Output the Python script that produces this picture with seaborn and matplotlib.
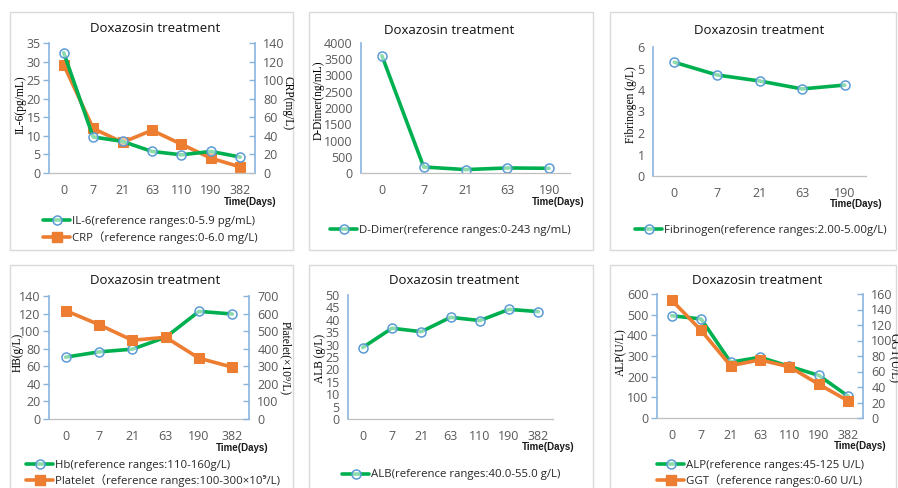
import numpy as np
import pandas as pd
import matplotlib
matplotlib.use("Agg")
import matplotlib.pyplot as plt
import seaborn as sns
from matplotlib.patches import Rectangle
from matplotlib.lines import Line2D
from matplotlib.ticker import FixedLocator

# ---------------- data ----------------
days7 = ["0", "7", "21", "63", "110", "190", "382"]
days5 = ["0", "7", "21", "63", "190"]
days6 = ["0", "7", "21", "63", "190", "382"]

il6 = [32.4, 9.7, 8.5, 5.8, 4.9, 5.8, 4.3]
crp = [116.5, 48, 33, 46, 31, 16, 6.5]
ddimer = [3610, 185, 105, 155, 145]
fibrinogen = [5.29, 4.70, 4.42, 4.05, 4.23]
hb = [70.4, 76.4, 79.5, 93, 122.5, 119.5]
platelet = [617, 537, 448, 465, 346, 295]
alb = [28.8, 36.6, 35.2, 41.0, 39.7, 44.2, 43.3]
alp = [495, 479, 270, 294, 250, 206, 105]
ggt = [152, 113, 67.5, 75, 66, 43.5, 22]

title_text = "Doxazosin treatment"
xunit_text = "Time(Days)"
leg_il6 = "IL-6(reference ranges:0-5.9 pg/mL)"
leg_crp = "CRP\uff08reference ranges:0-6.0 mg/L)"
leg_dd = "D-Dimer(reference ranges:0-243 ng/mL)"
leg_fib = "Fibrinogen(reference ranges:2.00-5.00g/L)"
leg_hb = "Hb(reference ranges:110-160g/L)"
leg_plt = "Platelet\uff08reference ranges:100-300\u00d710\u2079/L)"
leg_alb = "ALB(reference ranges:40.0-55.0 g/L)"
leg_alp = "ALP(reference ranges:45-125 U/L)"
leg_ggt = "GGT\uff08reference ranges:0-60 U/L)"

# ---------------- style ----------------
sns.set_style("white")
plt.rcParams["font.family"] = ["Open Sans", "Noto Sans CJK SC", "DejaVu Sans"]

GREEN = "#00b050"
ORANGE = "#ed7d31"
MBLUE = "#5b9bd5"
SPINE = "#8ab4df"
GREY_AX = "#bfbfbf"
TICK_TXT = "#595959"
SERIF = ["Liberation Serif", "DejaVu Serif"]

W, H = 898, 488
fig = plt.figure(figsize=(W / 100, H / 100), dpi=100)
fig.patch.set_facecolor("white")


def fx(x):
    return x / W


def fy(y):
    return 1 - y / H


def make_ax(l, r, t, b):
    return fig.add_axes([l / W, 1 - b / H, (r - l) / W, (b - t) / H])


green_kw = dict(color=GREEN, linewidth=2.6, marker="o", markersize=6.5,
                markerfacecolor=(1, 1, 1, 0.55), markeredgecolor=MBLUE,
                markeredgewidth=1.1)
orange_kw = dict(color=ORANGE, linewidth=2.6, marker="s", markersize=6.5,
                 markerfacecolor=ORANGE, markeredgecolor=ORANGE)


def draw(ax, cats, vals, kw):
    df = pd.DataFrame({"x": np.arange(len(cats)), "y": vals})
    sns.lineplot(data=df, x="x", y="y", ax=ax, legend=False, **kw)
    ax.set_xlabel("")
    ax.set_ylabel("")


def style_main(ax, cats, ymax, step):
    n = len(cats)
    ax.set_xlim(-0.5, n - 0.5)
    ax.set_ylim(0, ymax)
    ax.set_yticks(np.arange(0, ymax + step / 2, step))
    ax.set_xticks(np.arange(n))
    ax.set_xticklabels(cats)
    ax.xaxis.set_minor_locator(FixedLocator(np.arange(-0.5, n, 1.0)))
    ax.tick_params(axis="x", which="major", length=0, pad=8, labelsize=9,
                   labelcolor=TICK_TXT)
    ax.tick_params(axis="x", which="minor", length=4, width=0.8,
                   color=GREY_AX, direction="out")
    ax.tick_params(axis="y", length=4, width=1, color=SPINE, pad=2,
                   labelsize=9, labelcolor=TICK_TXT, direction="out")
    for s in ("top", "right"):
        ax.spines[s].set_visible(False)
    ax.spines["left"].set_color(SPINE)
    ax.spines["left"].set_linewidth(1.2)
    ax.spines["bottom"].set_color(GREY_AX)
    ax.spines["bottom"].set_linewidth(0.9)
    ax.patch.set_visible(False)


def style_twin(ax2, ymax, step):
    ax2.set_ylim(0, ymax)
    ax2.set_yticks(np.arange(0, ymax + step / 2, step))
    ax2.tick_params(axis="y", length=4, width=1, color=SPINE, pad=6,
                    labelsize=9, labelcolor=TICK_TXT, direction="in")
    for s in ("top", "left", "bottom"):
        ax2.spines[s].set_visible(False)
    ax2.spines["right"].set_color(SPINE)
    ax2.spines["right"].set_linewidth(1.2)
    ax2.patch.set_visible(False)


def frame(l, t, r, b):
    fig.add_artist(Rectangle((fx(l), fy(b)), (r - l) / W, (b - t) / H,
                             transform=fig.transFigure, fill=False,
                             edgecolor="#d9d9d9", linewidth=1.0))


def title(xc, yc):
    fig.text(fx(xc), fy(yc), title_text, ha="center", va="center",
             fontsize=9.5, color="#111111")


def xunit(xr, yc):
    fig.text(fx(xr), fy(yc), xunit_text, ha="right", va="center",
             fontsize=7, fontweight="bold", color="#1a1a1a",
             family=["Liberation Sans Narrow", "Liberation Sans", "DejaVu Sans"])


def ylab(ax, text, x, y, rot=90):
    fig.text(fx(x), fy(y), text, ha="center", va="center", rotation=rot,
             fontsize=8.3, family=SERIF, color="black")


def legend(x, y, items):
    handles = [Line2D([], [], **kw) for kw, _ in items]
    labels = [lab for _, lab in items]
    fig.legend(handles, labels, loc="center left",
               bbox_to_anchor=(fx(x), fy(y)), bbox_transform=fig.transFigure,
               frameon=False, fontsize=8.2, handlelength=2.4,
               handletextpad=0.15, labelspacing=0.3, borderpad=0,
               borderaxespad=0, labelcolor="#262626")


# panel frames
frame(10, 12, 293, 250)
frame(309, 12, 593, 250)
frame(610, 12, 896, 250)
frame(10, 265, 293, 495)
frame(309, 265, 593, 495)
frame(610, 265, 896, 495)

# ---------- Panel 1: IL-6 / CRP ----------
ax = make_ax(49, 255, 43, 173)
ax2 = ax.twinx()
draw(ax2, days7, crp, orange_kw)
draw(ax, days7, il6, green_kw)
style_main(ax, days7, 35, 5)
style_twin(ax2, 140, 20)
ax.set_zorder(ax2.get_zorder() + 1)
title(155, 28)
xunit(277, 202)
ylab(ax, "IL-6(pg/mL)", 21, 105)
ylab(ax2, "CRP(mg/L)", 288, 103, rot=270)
legend(43, 230, [(green_kw, leg_il6), (orange_kw, leg_crp)])

# ---------- Panel 2: D-Dimer ----------
ax = make_ax(361, 570, 43, 173)
draw(ax, days5, ddimer, green_kw)
style_main(ax, days5, 4000, 500)
title(449, 30)
xunit(585, 202)
ylab(ax, "D-Dimer(ng/mL)", 319, 100)
legend(330, 230, [(green_kw, leg_dd)])

# ---------- Panel 3: Fibrinogen ----------
ax = make_ax(653, 866, 47, 176)
draw(ax, days5, fibrinogen, green_kw)
style_main(ax, days5, 6, 1)
title(759, 30)
xunit(883, 204)
ylab(ax, "Fibrinogen (g/L)", 631, 105)
legend(635, 230, [(green_kw, leg_fib)])

# ---------- Panel 4: Hb / Platelet ----------
ax = make_ax(49, 249, 296, 419)
ax2 = ax.twinx()
draw(ax, days6, hb, green_kw)
draw(ax2, days6, platelet, orange_kw)
style_main(ax, days6, 140, 20)
style_twin(ax2, 700, 100)
title(155, 281)
xunit(269, 448)
ylab(ax, "HB(g/L)", 18, 352)
ylab(ax2, "Platelet(\u00d710\u2079/L)", 285, 358, rot=270)
legend(26, 473.5, [(green_kw, leg_hb), (orange_kw, leg_plt)])

# ---------- Panel 5: ALB ----------
ax = make_ax(348, 553, 295, 419)
draw(ax, days7, alb, green_kw)
style_main(ax, days7, 50, 5)
title(454, 281)
xunit(574, 447)
ylab(ax, "ALB (g/L)", 320, 358)
legend(342, 475, [(green_kw, leg_alb)])

# ---------- Panel 6: ALP / GGT ----------
ax = make_ax(657, 863, 294, 418)
ax2 = ax.twinx()
draw(ax, days7, alp, green_kw)
draw(ax2, days7, ggt, orange_kw)
style_main(ax, days7, 600, 100)
style_twin(ax2, 160, 20)
title(757, 280)
xunit(886, 446)
ylab(ax, "ALP(U/L)", 621, 352)
ylab(ax2, "GGT(U/L)", 893, 358, rot=270)
legend(657, 473.5, [(green_kw, leg_alp), (orange_kw, leg_ggt)])

fig.savefig("out.png", dpi=100, facecolor="white")
